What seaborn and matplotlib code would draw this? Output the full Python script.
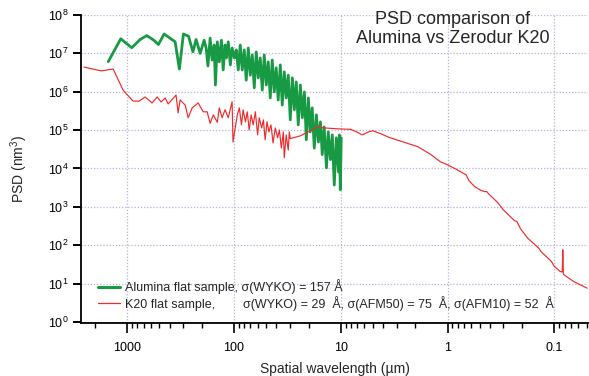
import matplotlib
matplotlib.use("Agg")
import matplotlib.pyplot as plt
import seaborn as sns
import pandas as pd
from matplotlib.ticker import FixedLocator, FixedFormatter, NullFormatter
from matplotlib.lines import Line2D

# ---------------- data ----------------
alumina_wavelength = [
    1500, 1146, 904, 755, 654, 562, 509, 450, 381, 355, 324, 297, 266, 242, 226, 207,
    190, 182, 175, 167, 160, 153, 149, 143, 137, 131, 126, 121, 118, 113, 108, 104,
    99, 95, 91, 87.3, 83.6, 80.0, 76.7, 73.4, 70.3, 67.3, 64.5, 61.8, 59.2, 56.7,
    54.3, 52.0, 49.8, 47.7, 45.7, 43.8, 41.9, 40.2, 38.5, 36.8, 35.3, 33.8, 32.4,
    31.0, 29.7, 28.4, 27.2, 26.1, 25.0, 23.9, 22.9, 21.9, 21.0, 20.1, 19.3, 18.5,
    17.7, 16.9, 16.2, 15.5, 14.9, 14.3, 13.6, 13.1, 12.5, 12.0, 11.5, 11.0, 10.5,
    10.3, 10.1, 9.9,
]
alumina_psd = [
    6.1e6, 2.4e7, 1.4e7, 2.3e7, 2.9e7, 2.2e7, 1.7e7, 3.2e7, 2.3e7, 2.0e7, 3.9e6, 3.2e7,
    2.8e7, 1.1e7, 2.3e7, 1.0e7,
    2.2e7, 1.38e7, 4.7e6, 2.5e7, 6.7e6, 1.65e7, 1.5e6, 2.0e7, 6.0e6, 2.2e7, 3.7e6,
    1.65e7, 7.6e6, 2.0e7, 5.0e6, 1.38e7,
    7.6e6, 1.23e7, 3.7e6, 1.65e7, 3.7e6, 1.23e7, 2.0e6, 1.38e7, 2.7e6, 9.1e6, 1.26e6,
    1.09e7, 2.3e6, 7.6e6,
    1.1e6, 9.1e6, 1.5e6, 6.0e6, 6.9e5, 6.7e6, 9.9e5, 4.2e6, 6.1e5, 5.0e6, 4.5e5,
    3.3e6, 6.9e5,
    2.7e6, 1.85e5, 2.3e6, 3.4e5, 1.8e6, 1.37e5, 1.5e6, 2.1e5, 9.9e5, 5.6e4, 6.9e5,
    9.0e4, 3.8e5,
    3.4e4, 2.5e5, 4.9e4, 1.64e5, 2.3e4, 1.21e5, 1.04e4, 9.0e4, 1.7e4, 7.5e4, 3.7e3,
    6.3e4, 8.1e3,
    7.5e4, 2.8e3, 6.3e4,
]

k20_wavelength = [
    2530, 1750, 1350, 1090, 879, 772, 678, 583, 523, 480, 440, 413, 348, 333, 319,
    286, 268, 246, 216, 194, 178, 167, 156, 143, 137, 129, 121, 113, 104, 102,
    93, 89, 85, 82, 78, 75, 72, 69, 66, 63, 60, 58, 55, 53, 51, 49, 47, 45, 43, 41,
    39, 37.5, 36, 34.5, 33.8, 32.4, 31.0, 30.3, 29.7,
    23.9, 19.3, 16.7, 14.3, 10.1, 8.1, 7.1, 6.3, 5.5, 5.0, 4.2, 3.6, 2.6, 1.9, 1.43,
    1.17, 1.0, 0.81, 0.67, 0.63, 0.56, 0.49, 0.45, 0.43, 0.42, 0.40, 0.34, 0.30,
    0.235, 0.225, 0.22, 0.208, 0.178, 0.14, 0.134, 0.107, 0.1, 0.089, 0.0845, 0.0835,
    0.0825, 0.0815, 0.066, 0.0494,
]
k20_psd = [
    4.4e6, 3.5e6, 3.9e6, 1.1e6, 5.7e5, 5.7e5, 7.3e5, 5.1e5, 7.3e5, 5.4e5, 6.9e5,
    4.8e5, 8.2e5, 2.8e5, 6.1e5,
    4.5e5, 2.1e5, 3.8e5, 5.1e5, 3.0e5, 3.0e5, 1.5e5, 2.5e5, 1.6e5, 3.8e5, 2.1e5,
    3.4e5, 2.1e5, 5.5e5, 4.9e4,
    2.5e5, 3.8e5, 1.37e5, 3.4e5, 1.64e5, 3.0e5, 1.01e5, 2.5e5, 1.37e5, 3.0e5, 7.5e4,
    2.1e5, 1.14e5, 1.85e5, 5.6e4, 1.64e5, 9.0e4, 1.37e5, 4.6e4, 1.14e5,
    6.3e4, 1.01e5, 3.4e4, 9.0e4, 1.9e4, 7.5e4, 3.0e4, 9.0e4, 6.0e4,
    7.1e4, 9.6e4, 1.21e5, 1.14e5, 1.07e5, 1.05e5, 9.0e4, 7.5e4, 9.0e4, 9.6e4, 8.0e4,
    6.6e4, 4.9e4, 3.7e4, 2.3e4,
    1.5e4, 1.25e4, 9.2e3, 6.8e3, 4.8e3, 3.4e3, 2.7e3, 2.5e3, 2.5e3, 2.3e3, 2.0e3,
    1.3e3, 830,
    430, 420, 370, 270, 153, 84, 69, 38, 28, 21, 20, 76,
    18, 17, 11.3, 7.6,
]

x_tick_values = [1000, 100, 10, 1, 0.1]
x_tick_labels = ["1000", "100", "10", "1", "0.1"]
y_tick_values = [1e0, 1e1, 1e2, 1e3, 1e4, 1e5, 1e6, 1e7, 1e8]
y_tick_labels = [r"$10^{%d}$" % k for k in range(9)]

title_text = "PSD comparison of\nAlumina vs Zerodur K20"
x_label = "Spatial wavelength (\u00b5m)"
y_label = r"PSD (nm$^{3}$)"
legend_labels = [
    "Alumina flat sample, \u03c3(WYKO) = 157 \u00c5",
    "K20 flat sample,        \u03c3(WYKO) = 29  \u00c5, \u03c3(AFM50) = 75  \u00c5, \u03c3(AFM10) = 52  \u00c5",
]

green = "#189a45"
red = "#ee2a2a"
grid_color = "#b4b4df"

# ---------------- style ----------------
sns.set_style("white")
plt.rcParams["font.family"] = ["Liberation Sans", "DejaVu Sans"]
plt.rcParams["mathtext.fontset"] = "custom"
plt.rcParams["mathtext.rm"] = "Liberation Sans"
plt.rcParams["mathtext.it"] = "Liberation Sans:italic"
plt.rcParams["mathtext.bf"] = "Liberation Sans:bold"

W, H = 589, 376
fig = plt.figure(figsize=(W / 100, H / 100), dpi=100)
fig.patch.set_facecolor("white")
ax = fig.add_axes([81 / W, 1 - 323 / H, (588 - 81) / W, (323 - 15) / H])

df_al = pd.DataFrame({"wavelength": alumina_wavelength, "psd": alumina_psd})
df_k20 = pd.DataFrame({"wavelength": k20_wavelength, "psd": k20_psd})

ax.set_xscale("log")
ax.set_yscale("log")

sns.lineplot(data=df_al, x="wavelength", y="psd", ax=ax, color=green,
             linewidth=2.0, estimator=None, sort=False, legend=False, zorder=3)
sns.lineplot(data=df_k20, x="wavelength", y="psd", ax=ax, color=red,
             linewidth=0.85, estimator=None, sort=False, legend=False, zorder=4)

ax.set_xlim(2700, 0.0485)
ax.set_ylim(0.94, 1e8)

ax.xaxis.set_major_locator(FixedLocator(x_tick_values))
ax.xaxis.set_major_formatter(FixedFormatter(x_tick_labels))
ax.xaxis.set_minor_formatter(NullFormatter())
ax.yaxis.set_major_locator(FixedLocator(y_tick_values))
ax.yaxis.set_major_formatter(FixedFormatter(y_tick_labels))
ax.yaxis.set_minor_locator(FixedLocator([]))

ax.tick_params(axis="x", which="major", direction="out", length=7, width=1.2,
               labelsize=9, pad=7, colors="black", bottom=True)
ax.tick_params(axis="x", which="minor", direction="out", length=3.6, width=1.0,
               colors="black", bottom=True)
ax.tick_params(axis="y", which="major", direction="out", length=5.8, width=1.4,
               labelsize=9, pad=3, colors="black", left=True)

for side in ["top", "right"]:
    ax.spines[side].set_visible(False)
for side in ["left", "bottom"]:
    ax.spines[side].set_color("black")
    ax.spines[side].set_linewidth(1.3)

ax.grid(True, which="major", color=grid_color, linestyle=(0, (1, 1.5)), linewidth=0.9)
ax.set_axisbelow(True)

ax.set_xlabel(x_label, fontsize=10)
ax.set_ylabel(y_label, fontsize=10)
ax.xaxis.set_label_coords(0.5, -0.125)
ax.yaxis.set_label_coords(-0.10, 0.5)

fig.text(453 / W, 1 - 11 / H, title_text, ha="center", va="top", fontsize=13,
         linespacing=1.15)

handles = [Line2D([], [], color=green, linewidth=2.2),
           Line2D([], [], color=red, linewidth=0.9)]
ax.legend(handles, legend_labels, loc="lower left", bbox_to_anchor=(0.0335, 0.04),
          frameon=False, fontsize=9, handlelength=1.75, handletextpad=0.45,
          borderpad=0, borderaxespad=0, labelspacing=0.15)

fig.savefig("out.png", dpi=100, facecolor="white")
